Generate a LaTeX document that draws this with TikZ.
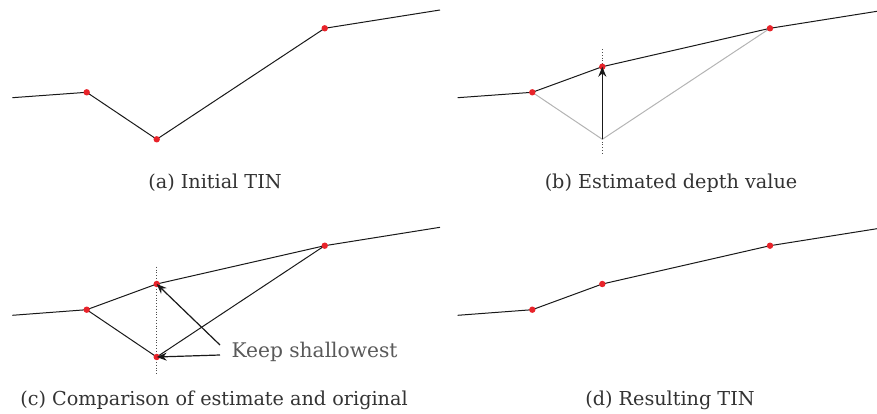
\documentclass[tikz,border=0pt]{standalone}
\usepackage{fontspec}
\setmainfont{DejaVu Serif}
\usetikzlibrary{arrows.meta}
\definecolor{TinRed}{HTML}{E8232A}
\definecolor{TinGray}{HTML}{B4B4B4}
\definecolor{TinText}{HTML}{333333}

\begin{document}
\begin{tikzpicture}[x=1pt,y=-1pt,font=\fontsize{19.2}{22}\selectfont,
  tinline/.style={black!90,line width=1pt},
  guide/.style={black!70,dotted,line width=0.8pt},
  pointer/.style={-{Stealth[length=10pt,width=8pt]},black!90,line width=1.2pt},
  caption/.style={text=TinText,anchor=base}]
\useasboundingbox (0,0) rectangle (877,414);
% profile points of the four panels (pixel positions, y downwards)
\coordinate (a0) at (12.3,97.7);  \coordinate (a1) at (86.7,92.3);
\coordinate (a2) at (156.7,139.3); \coordinate (a3) at (324.7,28.3);
\coordinate (a4) at (440,10);
\coordinate (b0) at (457.7,97.7); \coordinate (b1) at (532.3,92.3);
\coordinate (b2) at (602.3,139.3); \coordinate (bn) at (602.3,66.7);
\coordinate (b3) at (770,28.3);   \coordinate (b4) at (877,11.3);
\coordinate (c0) at (12.3,315.3); \coordinate (c1) at (86.7,309.7);
\coordinate (c2) at (156.7,357);  \coordinate (cn) at (156.7,284);
\coordinate (c3) at (324.7,245.7); \coordinate (c4) at (440,227.3);
\coordinate (d0) at (457.7,315.3); \coordinate (d1) at (532.3,309.7);
\coordinate (dn) at (602.3,284);  \coordinate (d3) at (770,245.7);
\coordinate (d4) at (877,228.7);

% (a) initial surface
\draw[tinline] (a0) -- (a1) -- (a2) -- (a3) -- (a4);
\foreach \p in {a1,a2,a3} {\fill[TinRed] (\p) circle (3.2);}

% (b) estimate from the neighbours
\coordinate (bt) at (602.3,49.3); \coordinate (bb) at (602.3,155);
\draw[guide] (bt) -- (bb);
\draw[TinGray,line width=1pt] (b1) -- (b2) -- (b3);
\draw[tinline] (b0) -- (b1) -- (bn) -- (b3) -- (b4);
\foreach \p in {b1,bn,b3} {\fill[TinRed] (\p) circle (3.2);}
\draw[pointer] (b2) -- (bn);

% (c) both values kept for the comparison
\coordinate (ct) at (156.7,266.7); \coordinate (cb) at (156.7,373.3);
\draw[guide] (ct) -- (cb);
\draw[tinline] (c0) -- (c1) -- (cn) -- (c3) -- (c4);
\draw[tinline] (c1) -- (c2) -- (c3);
\foreach \p in {c1,c2,cn,c3} {\fill[TinRed] (\p) circle (3.2);}
\node[anchor=west,text=black!65,font=\fontsize{20.2}{23}\selectfont] (keep) at (228,352) {Keep shallowest};
\coordinate (k1) at (220,345); \coordinate (k2) at (220,355);
\draw[pointer] (k1) -- (cn);
\draw[pointer] (k2) -- (c2);

% (d) result
\draw[tinline] (d0) -- (d1) -- (dn) -- (d3) -- (d4);
\foreach \p in {d1,dn,d3} {\fill[TinRed] (\p) circle (3.2);}

\node[caption] (capa) at (215,189) {(a) Initial TIN};
\node[caption] (capb) at (671,189) {(b) Estimated depth value};
\node[caption] (capc) at (214,405) {(c) Comparison of estimate and original};
\node[caption] (capd) at (670,405) {(d) Resulting TIN};
\end{tikzpicture}
\end{document}
